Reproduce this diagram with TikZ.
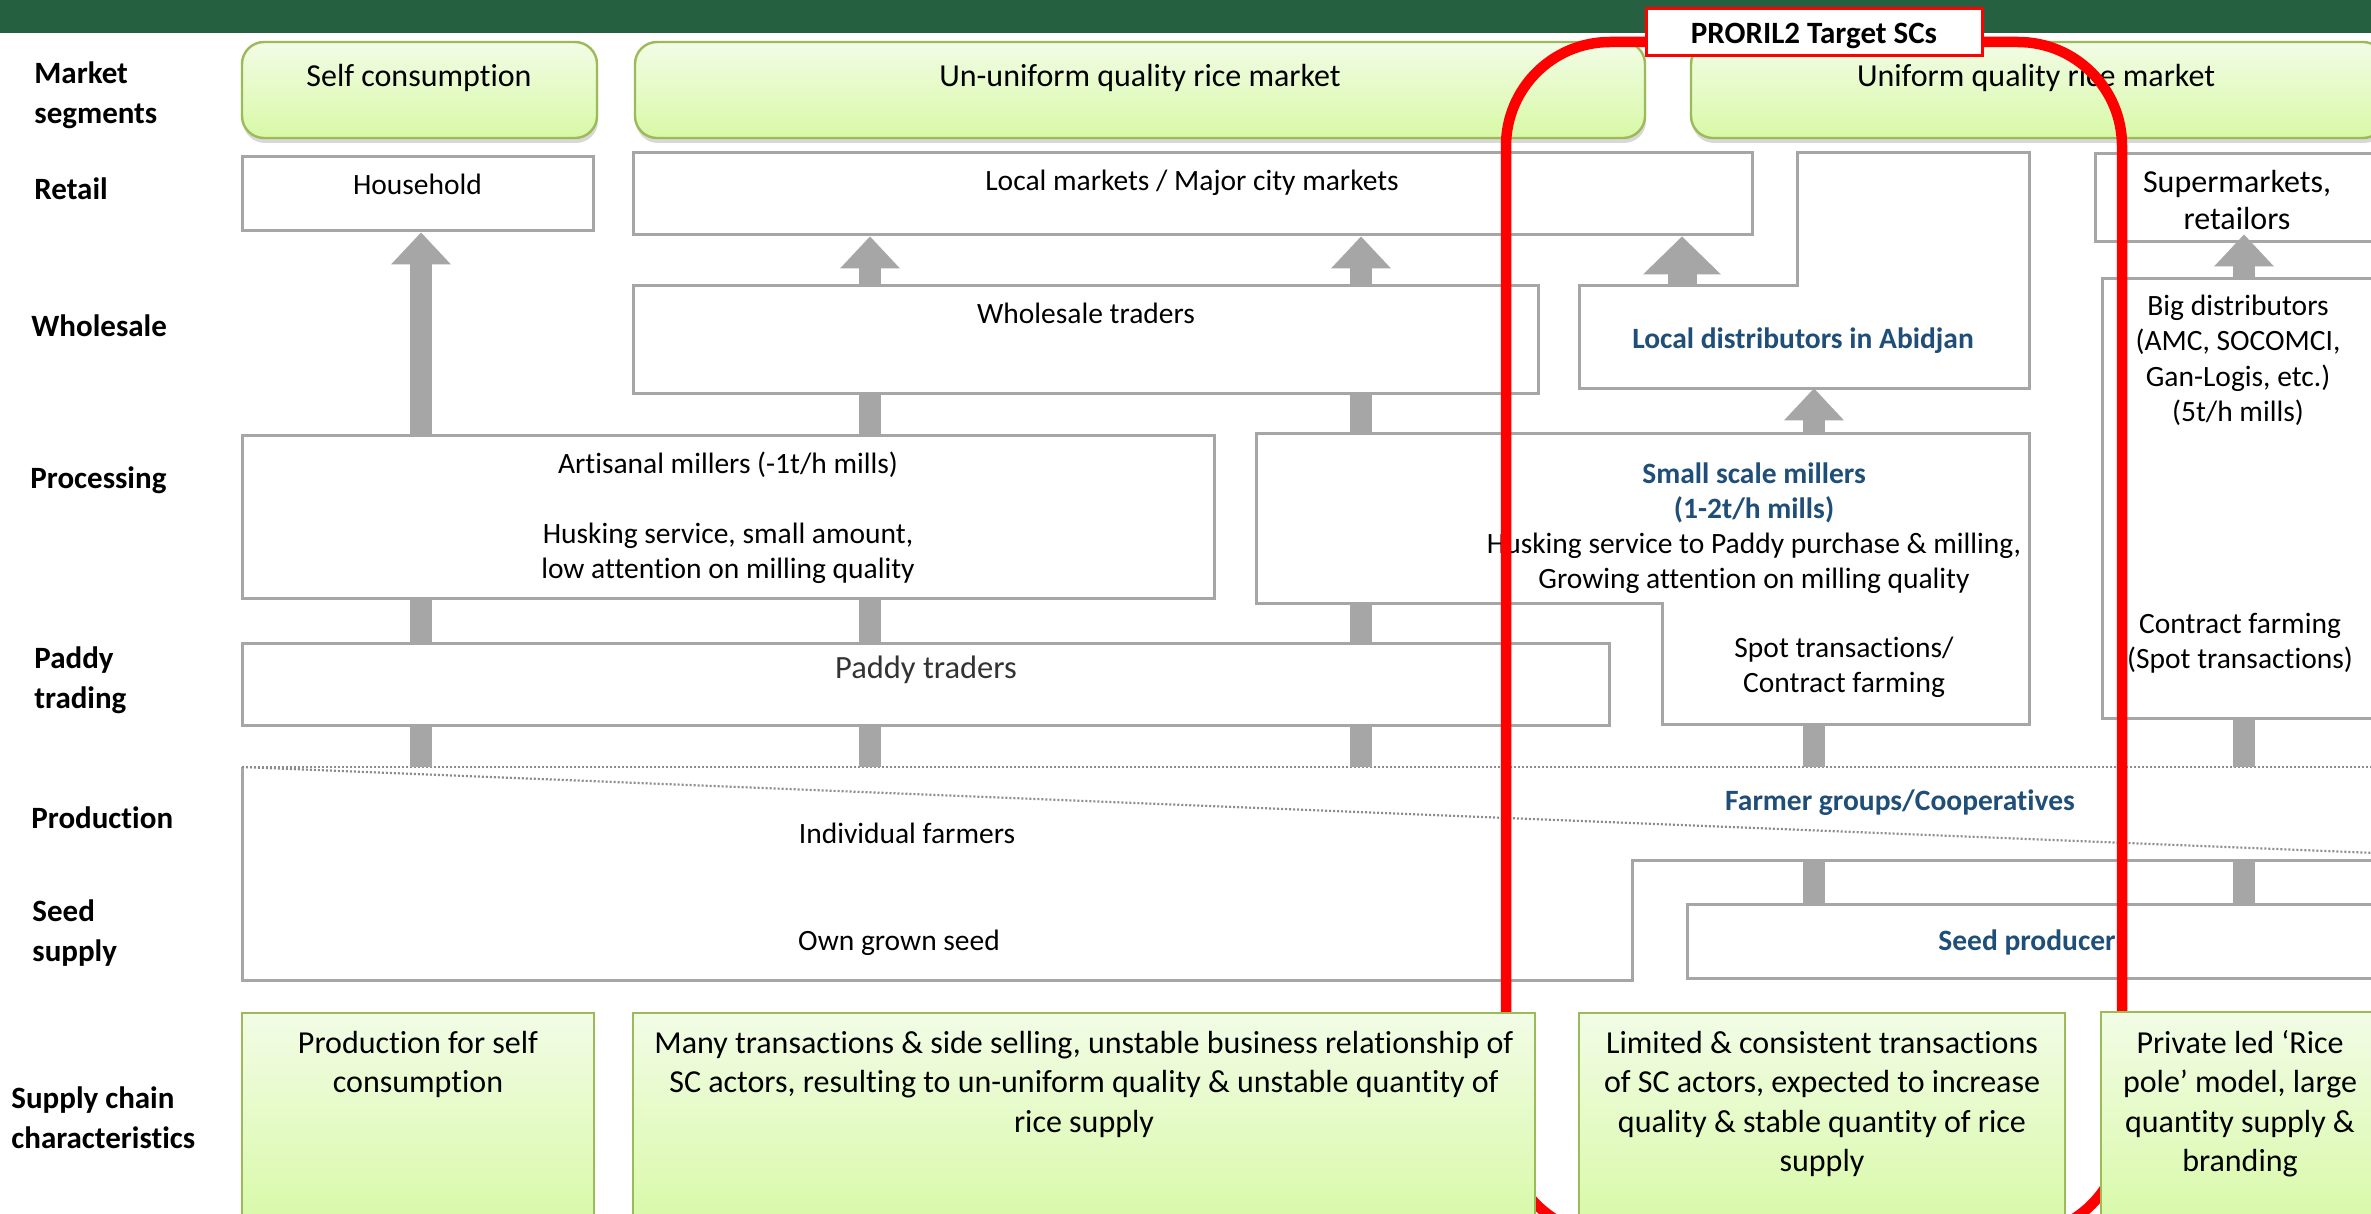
\documentclass[tikz,border=0pt]{standalone}
\usepackage{fontspec}
\setmainfont{Carlito}[Ligatures=NoCommon]
\usetikzlibrary{arrows.meta,fit,shadows}
\definecolor{topgreen}{RGB}{37,96,64}
\definecolor{boxgray}{RGB}{166,166,166}
\definecolor{dotgray}{RGB}{140,140,140}
\definecolor{arrowgray}{RGB}{166,166,166}
\definecolor{gtop}{RGB}{242,252,230}
\definecolor{gbot}{RGB}{216,249,166}
\definecolor{gborder}{RGB}{155,187,89}
\definecolor{bluetext}{RGB}{31,78,121}
\definecolor{redline}{RGB}{255,0,0}
\begin{document}
\begin{tikzpicture}[x=0.5pt,y=-0.5pt,
  gbox/.style={draw=boxgray, line width=1.5pt, fill=white, inner sep=0pt},
  gboxline/.style={draw=boxgray, line width=1.5pt, fill=white},
  hidden/.style={inner sep=0pt},
  msbox/.style={draw=gborder, line width=1.2pt, rounded corners=11pt, top color=gtop, bottom color=gbot, inner sep=0pt,
     drop shadow={shadow xshift=0.5pt, shadow yshift=-2.5pt, opacity=0.3, fill=black!50}},
  cbox/.style={draw=gborder, line width=1.2pt, top color=gtop, bottom color=gbot, inner sep=0pt},
  lbl/.style={font=\bfseries\fontsize{15.5}{20}\selectfont, align=left, anchor=base west, inner sep=0pt},
  boxtxt/.style={font=\fontsize{14.75}{17.75}\selectfont, align=center, anchor=base, inner sep=0pt},
  bluetxt/.style={font=\bfseries\fontsize{14.75}{17.75}\selectfont, text=bluetext, align=center, anchor=base, inner sep=0pt},
  mstxt/.style={font=\fontsize{16}{19.5}\selectfont, anchor=base, inner sep=0pt},
  chartxt/.style={font=\fontsize{16}{19.75}\selectfont, align=center, anchor=base, inner sep=0pt},
  garrow/.style={draw=arrowgray, line width=11pt, -{Triangle[width=30pt,length=16pt,line width=0pt]}},
  garrowbig/.style={draw=arrowgray, line width=14.5pt, -{Triangle[width=39pt,length=19pt,line width=0pt]}},
  gbar/.style={draw=arrowgray, line width=11pt},
  dotline/.style={draw=dotgray, line width=1.1pt, dash pattern=on 1pt off 1pt}]
\useasboundingbox (0,0) rectangle (2371,1214);
\begin{scope}
\clip (0,0) rectangle (2371,1214);
\fill[white] (0,0) rectangle (2371,1214);
\fill[topgreen] (0,0) rectangle (2371,33);

% row labels (anchor = last baseline)
\node[lbl] (lMS) at (34,124) {Market\\segments};
\node[lbl] (lRE) at (34,200) {Retail};
\node[lbl] (lWH) at (31,336) {Wholesale};
\node[lbl] (lPR) at (30,488) {Processing};
\node[lbl] (lPA) at (34,708) {Paddy\\trading};
\node[lbl] (lPO) at (31,828) {Production};
\node[lbl] (lSE) at (32,961) {Seed\\supply};
\node[lbl] (lSC) at (11,1148) {Supply chain\\characteristics};

% market segments
\node[msbox, fit={(242,42) (597,138)}] (ms1) {};
\node[mstxt] (ms1t) at (419,87) {Self consumption};
\node[msbox, fit={(635,42) (1645,138)}] (ms2) {};
\node[mstxt] (ms2t) at (1140,87) {Un-uniform quality rice market};
\node[msbox, fit={(1691,42) (2385,138)}] (ms3) {};
\node[mstxt] (ms3t) at (2036,87) {Uniform quality rice market};

% retail
\node[gbox, fit={(242,157) (593,231)}] (hh) {};
\node[boxtxt] (hht) at (417.5,195) {Household};
\node[gbox, fit={(633,153) (1752,235)}] (lm) {};
\node[boxtxt] (lmt) at (1192,191) {Local markets / Major city markets};
\draw[gboxline] (1797,153) -- (2029,153) -- (2029,388) -- (1579,388) -- (1579,286) -- (1797,286) -- cycle;
\node[hidden, fit={(1579,286) (2029,388)}] (ld) {};
\node[bluetxt] (ldt) at (1803,348) {Local distributors in Abidjan};
\node[gbox, fit={(2095,154) (2400,242)}] (sm) {};
\node[boxtxt, font=\fontsize{16}{18.5}\selectfont] (smt) at (2237,230) {Supermarkets,\\retailors};

% wholesale
\node[gbox, fit={(633,286) (1538,393)}] (wt) {};
\node[boxtxt] (wtt) at (1086,323) {Wholesale traders};
\node[gbox, fit={(2102,279) (2400,718)}] (bd) {};
\node[boxtxt] (bdt) at (2238,421.5) {Big distributors\\(AMC, SOCOMCI,\\Gan-Logis, etc.)\\(5t/h mills)};
\node[boxtxt] (bdt2) at (2240,668.5) {Contract farming\\(Spot transactions)};

% processing
\node[gbox, fit={(242,435) (1214,598)}] (art) {};
\node[boxtxt] (artt1) at (728,473) {Artisanal millers (-1t/h mills)};
\node[boxtxt] (artt2) at (728,578.5) {Husking service, small amount,\\low attention on milling quality};
\draw[gboxline] (1256,433) -- (2029,433) -- (2029,724) -- (1662,724) -- (1662,603) -- (1256,603) -- cycle;
\node[hidden, fit={(1256,433) (2029,603)}] (ssm) {};
\node[hidden, fit={(1662,603) (2029,724)}] (ssmb) {};
\node[bluetxt] (ssmt1) at (1754,518.5) {Small scale millers\\(1-2t/h mills)};
\node[boxtxt] (ssmt2) at (1754,588.5) {Husking service to Paddy purchase \& milling,\\Growing attention on milling quality};
\node[boxtxt] (ssmt3) at (1844,692.5) {Spot transactions/\\Contract farming};

% paddy trading
\node[gbox, fit={(242,643) (1609,725)}] (pt) {};
\node[boxtxt, font=\fontsize{16.25}{19}\selectfont, text=black!80] (ptt) at (926,678) {Paddy traders};

% production / seed
\fill[white] (242,767) -- (2400,767) -- (2400,860) -- (1632,860) -- (1632,980) -- (242,980) -- cycle;
\draw[draw=boxgray, line width=1.5pt] (2400,860) -- (1632,860) -- (1632,980) -- (242,980) -- (242,767);
\draw[dotline] (242,767) -- (2400,767);
\draw[dotline] (242,767) -- (2400,854);
\coordinate (prodtop) at (0,767);
\coordinate (seedtop) at (0,860);
\node[boxtxt] (pot) at (907,843) {Individual farmers};
\node[boxtxt] (sot) at (899,950) {Own grown seed};
\node[bluetxt] (fgt) at (1900,810) {Farmer groups/Cooperatives};
\node[gbox, fit={(1687,904) (2400,978)}] (sp) {};
\node[bluetxt] (spt) at (2027,950) {Seed producer};

% connector x positions
\coordinate (xa1) at (421,0);
\coordinate (xa2) at (870,0);
\coordinate (xa3) at (1361,0);
\coordinate (xa4) at (1682,0);
\coordinate (xa5) at (1814,0);
\coordinate (xa6) at (2244,0);

% bars
\draw[gbar] (art.south -| xa1) -- (pt.north -| xa1);
\draw[gbar] (art.south -| xa2) -- (pt.north -| xa2);
\draw[gbar] (wt.south -| xa2) -- (art.north -| xa2);
\draw[gbar] (wt.south -| xa3) -- (ssm.north -| xa3);
\draw[gbar] (ssm.south -| xa3) -- (pt.north -| xa3);
\draw[gbar] (pt.south -| xa1) -- (prodtop -| xa1);
\draw[gbar] (pt.south -| xa2) -- (prodtop -| xa2);
\draw[gbar] (pt.south -| xa3) -- (prodtop -| xa3);
\draw[gbar] (ssmb.south -| xa5) -- (prodtop -| xa5);
\draw[gbar] (bd.south -| xa6) -- (prodtop -| xa6);
\draw[gbar] (seedtop -| xa5) -- (sp.north -| xa5);
\draw[gbar] (seedtop -| xa6) -- (sp.north -| xa6);

% arrows
\draw[garrow] (art.north -| xa1) -- (hh.south -| xa1);
\draw[garrow] (wt.north -| xa2) -- (lm.south -| xa2);
\draw[garrow] (wt.north -| xa3) -- (lm.south -| xa3);
\draw[garrowbig] (ld.north -| xa4) -- (lm.south -| xa4);
\draw[garrow] (ssm.north -| xa5) -- (ld.south -| xa5);
\draw[garrow, shorten >=-4.5pt] (bd.north -| xa6) -- (sm.south -| xa6);

% red target outline
\draw[draw=redline, line width=5.25pt, rounded corners=52pt] (1506,42) rectangle (2122,1235);

% supply chain characteristics
\node[cbox, fit={(242,1013) (594,1230)}] (c1) {};
\node[chartxt] (c1t) at (418,1092.5) {Production for self\\consumption};
\node[cbox, fit={(633,1013) (1535,1230)}] (c2) {};
\node[chartxt] (c2t) at (1084,1132) {Many transactions \& side selling, unstable business relationship of\\SC actors, resulting to un-uniform quality \& unstable quantity of\\rice supply};
\node[cbox, fit={(1579,1013) (2065,1230)}] (c3) {};
\node[chartxt] (c3t) at (1822,1171.5) {Limited \& consistent transactions\\of SC actors, expected to increase\\quality \& stable quantity of rice\\supply};
\node[cbox, fit={(2101,1012) (2392,1230)}] (c4) {};
\node[chartxt] (c4t) at (2240,1171.5) {Private led ‘Rice\\pole’ model, large\\quantity supply \&\\branding};

% target label
\node[hidden, fit={(1646,9) (1982,56)}, draw=redline, line width=1.5pt, fill=white] (tgt) {};
\node[font=\bfseries\fontsize{15.5}{18}\selectfont, anchor=base, inner sep=0pt] (tgtt) at (1814,44) {PRORIL2 Target SCs};
\end{scope}
\end{tikzpicture}
\end{document}
